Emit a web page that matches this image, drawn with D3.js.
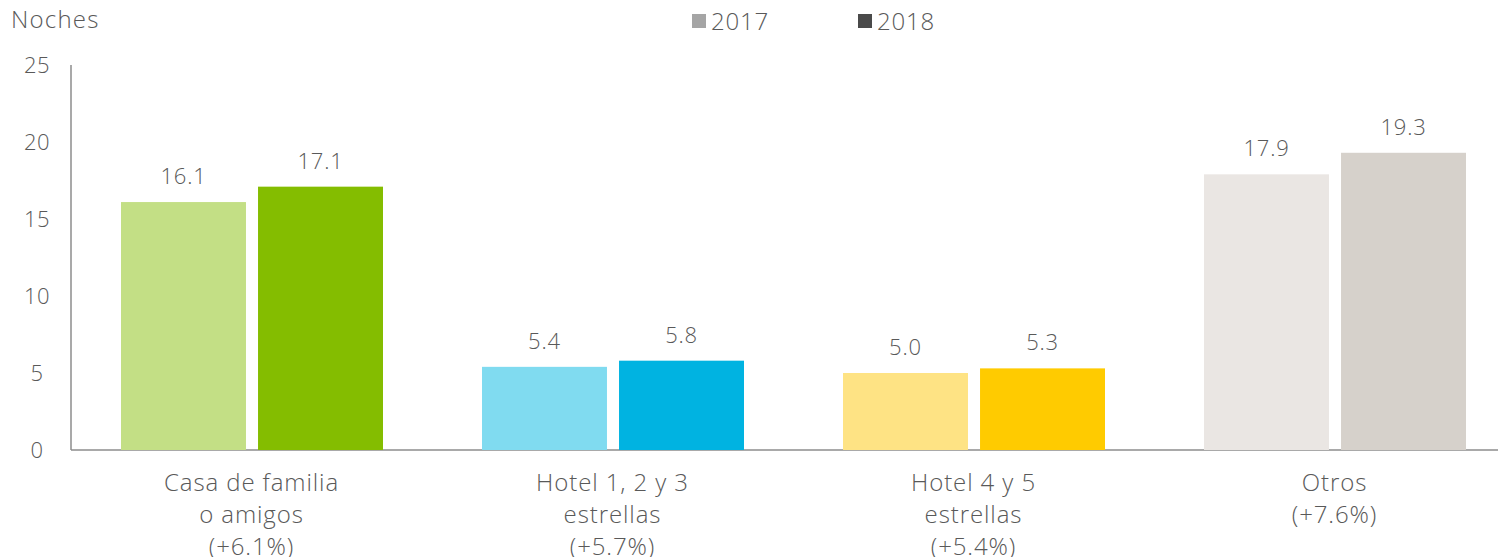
<!DOCTYPE html>
<html><head><meta charset="utf-8">
<script src="https://cdn.jsdelivr.net/npm/d3@7"></script>
<style>body{margin:0;background:#fff}svg{display:block}text{font-family:"Open Sans",Lato,sans-serif;fill:#595959;font-weight:300}</style>
</head><body><svg id="c" width="1498" height="557"></svg>
<script>
const categories = [["Casa de familia","o amigos","(+6.1%)"],["Hotel 1, 2 y 3","estrellas","(+5.7%)"],["Hotel 4 y 5","estrellas","(+5.4%)"],["Otros","(+7.6%)"]];
const series = ["2017","2018"];
const values2017 = [16.1, 5.4, 5.0, 17.9];
const values2018 = [17.1, 5.8, 5.3, 19.3];
const yTicks = [0,5,10,15,20,25];
const colors2017 = ["#c3df85","#80dbf0","#fee384","#eae6e3"];
const colors2018 = ["#84bd00","#00b3e1","#ffcb00","#d6d1cb"];
const legendColors = ["#a5a5a5","#4a4a4a"];

const svg = d3.select("#c");
const x0 = d3.scaleBand().domain(d3.range(categories.length)).range([71, 1515]).paddingInner(0).paddingOuter(0);
const x1 = d3.scaleBand().domain(series).range([50, 312]).paddingInner(0.088);
const y = d3.scaleLinear().domain([0,25]).range([450, 65]);

svg.append("line").attr("x1",71).attr("x2",71).attr("y1",y(25)).attr("y2",450).attr("stroke","#8c8c8c").attr("stroke-width",1.5);
svg.append("line").attr("x1",71).attr("x2",1498).attr("y1",450).attr("y2",450).attr("stroke","#8c8c8c").attr("stroke-width",1.5);
svg.selectAll(".yt").data(yTicks).enter().append("text")
  .attr("x",37).attr("y",d=>y(d)+8).attr("text-anchor","middle").attr("font-size",22).attr("letter-spacing",0.5).text(d=>d);

svg.append("text").attr("x",11).attr("y",28).attr("font-size",24).attr("letter-spacing",1.2).text("Noches");

const vals = [values2017, values2018];
const cols = [colors2017, colors2018];
series.forEach((s,si)=>{
  const g = svg.append("g");
  g.selectAll("rect").data(vals[si]).enter().append("rect")
    .attr("x",(d,i)=>x0(i)+x1(s)).attr("width",x1.bandwidth())
    .attr("y",d=>y(d)).attr("height",d=>450-y(d)).attr("fill",(d,i)=>cols[si][i]);
  g.selectAll("text").data(vals[si]).enter().append("text")
    .attr("x",(d,i)=>x0(i)+x1(s)+x1.bandwidth()/2).attr("y",d=>y(d)-18)
    .attr("text-anchor","middle").attr("font-size",22).attr("letter-spacing",0.8).text(d=>d.toFixed(1));
});

categories.forEach((lines,i)=>{
  const t = svg.append("text").attr("text-anchor","middle").attr("font-size",24).attr("letter-spacing",0.9);
  lines.forEach((l,j)=>{
    t.append("tspan").attr("x",x0(i)+x0.bandwidth()/2).attr("y",491+j*32).text(l);
  });
});

const legX = [692, 858];
series.forEach((s,si)=>{
  svg.append("rect").attr("x",legX[si]).attr("y",14).attr("width",14).attr("height",14).attr("fill",legendColors[si]);
  svg.append("text").attr("x",legX[si]+19).attr("y",30).attr("font-size",24).attr("letter-spacing",0.8).text(s);
});
</script></body></html>
